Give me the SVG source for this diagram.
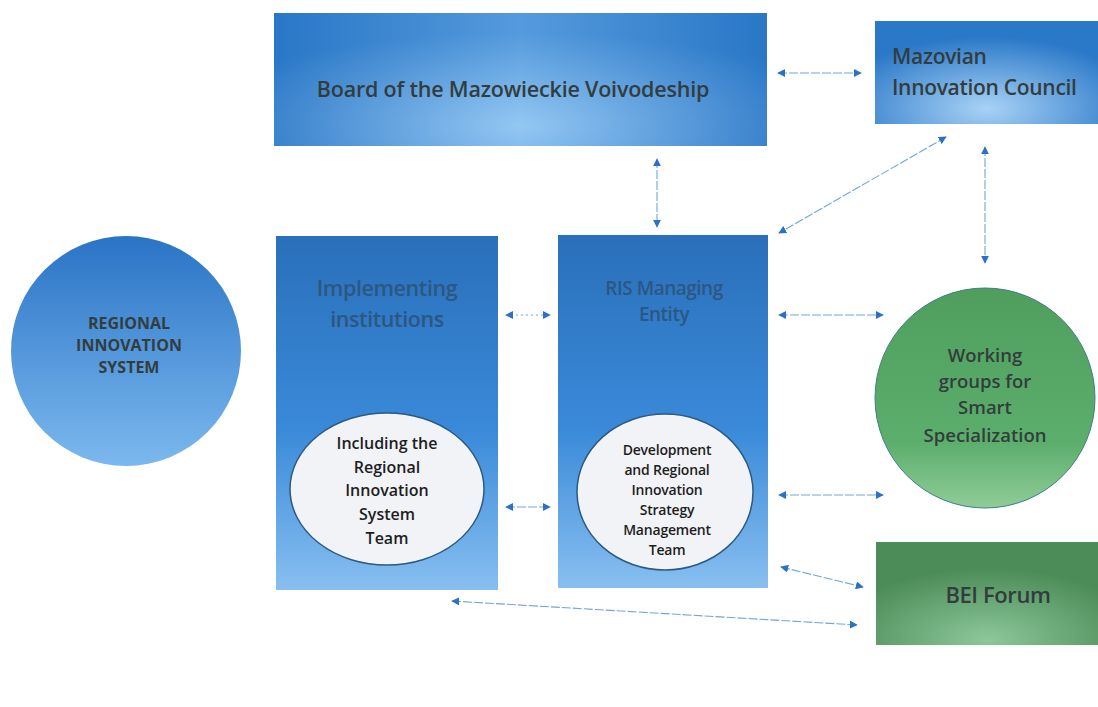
<svg xmlns="http://www.w3.org/2000/svg" width="1098" height="707" viewBox="0 0 1098 707">
<defs>
<linearGradient id="hblue" x1="0" y1="0" x2="1" y2="0">
<stop offset="0" stop-color="#2a76c6"/><stop offset="0.5" stop-color="#7fbcf0"/><stop offset="1" stop-color="#2a76c6"/>
</linearGradient>
<radialGradient id="rblue" cx="0.5" cy="0.85" r="0.7">
<stop offset="0" stop-color="#a8d2f6"/><stop offset="1" stop-color="#2a78c8"/>
</radialGradient>
<linearGradient id="vblue" x1="0" y1="0" x2="0" y2="1">
<stop offset="0" stop-color="#2a6fba"/><stop offset="0.55" stop-color="#3a8ad9"/><stop offset="1" stop-color="#88bff0"/>
</linearGradient>
<linearGradient id="cblue" x1="0" y1="0" x2="0" y2="1">
<stop offset="0" stop-color="#2a74c6"/><stop offset="1" stop-color="#7cb8ee"/>
</linearGradient>
<linearGradient id="cgreen" x1="0" y1="0" x2="0" y2="1">
<stop offset="0" stop-color="#4f9e5e"/><stop offset="0.7" stop-color="#5cae6c"/><stop offset="1" stop-color="#8fcc98"/>
</linearGradient>
<radialGradient id="rgreen" cx="0.5" cy="0.95" r="0.7">
<stop offset="0" stop-color="#8cc79a"/><stop offset="1" stop-color="#4c8c58"/>
</radialGradient>
<marker id="ah" viewBox="0 0 10 10" refX="9" refY="5" markerWidth="8" markerHeight="8" markerUnits="userSpaceOnUse" orient="auto-start-reverse">
<path d="M0,0 L10,5 L0,10 z" fill="#2a72c8"/>
</marker>
<style>
.t{font-family:"Open Sans","Noto Sans","Liberation Sans",sans-serif;font-weight:600;fill:#333d3d;text-anchor:middle}
.tb{font-family:"Open Sans","Noto Sans","Liberation Sans",sans-serif;font-weight:600;fill:#2c5780;text-anchor:middle}
.bold{font-weight:700;font-size:16px}
.e{fill:#f1f3f6;stroke:#2c5a82;stroke-width:1.5}
.k{fill:#1e1e1e}
.c{fill:none;stroke:#6ea6de;stroke-width:1.1;stroke-dasharray:9 2;marker-start:url(#ah);marker-end:url(#ah)}
</style>
</defs>
<rect width="1098" height="707" fill="#ffffff"/>
<g id="board">
<rect x="274" y="13" width="493" height="133" fill="url(#hblue)"/>
<rect x="274" y="13" width="493" height="133" fill="url(#rblue)" opacity="0.5"/>
<text class="t" x="513" y="97" font-size="21.5" letter-spacing="-0.2">Board of the Mazowieckie Voivodeship</text>
</g>
<g id="council">
<rect x="875" y="21" width="223" height="103" fill="url(#rblue)"/>
<text class="t" x="892" y="64" font-size="21" style="text-anchor:start" letter-spacing="-0.3">Mazovian</text>
<text class="t" x="892" y="95" font-size="21" style="text-anchor:start" letter-spacing="-0.3">Innovation Council</text>
</g>
<g id="ris">
<circle cx="126" cy="351" r="115" fill="url(#cblue)"/>
<text class="t bold" x="129" y="329">REGIONAL</text>
<text class="t bold" x="129" y="351">INNOVATION</text>
<text class="t bold" x="129" y="373">SYSTEM</text>
</g>
<g id="implementing">
<rect x="276" y="236" width="222" height="354" fill="url(#vblue)"/>
<text class="tb" x="387" y="296" font-size="21.5" letter-spacing="-0.4">Implementing</text>
<text class="tb" x="387" y="327" font-size="21.5" letter-spacing="-0.4">institutions</text>
<ellipse class="e" cx="387" cy="489" rx="97" ry="76"/>
<text class="t k" x="387" y="449" font-size="16">Including the</text>
<text class="t k" x="387" y="473" font-size="16">Regional</text>
<text class="t k" x="387" y="496" font-size="16">Innovation</text>
<text class="t k" x="387" y="520" font-size="16">System</text>
<text class="t k" x="387" y="544" font-size="16">Team</text>
</g>
<g id="managing">
<rect x="558" y="235" width="210" height="353" fill="url(#vblue)"/>
<text class="tb" x="664" y="295" font-size="19" letter-spacing="-0.5">RIS Managing</text>
<text class="tb" x="664" y="321" font-size="19" letter-spacing="-0.5">Entity</text>
<ellipse class="e" cx="665" cy="492" rx="88" ry="78"/>
<text class="t k" x="667" y="455" font-size="14" letter-spacing="-0.2">Development</text>
<text class="t k" x="667" y="475" font-size="14" letter-spacing="-0.2">and Regional</text>
<text class="t k" x="667" y="495" font-size="14" letter-spacing="-0.2">Innovation</text>
<text class="t k" x="667" y="515" font-size="14" letter-spacing="-0.2">Strategy</text>
<text class="t k" x="667" y="535" font-size="14" letter-spacing="-0.2">Management</text>
<text class="t k" x="667" y="555" font-size="14" letter-spacing="-0.2">Team</text>
</g>
<g id="working">
<circle cx="985" cy="398" r="110" fill="url(#cgreen)" stroke="#3f7f86" stroke-width="1"/>
<text class="t" x="985" y="362" font-size="18.5">Working</text>
<text class="t" x="985" y="388" font-size="18.5">groups for</text>
<text class="t" x="985" y="414" font-size="18.5">Smart</text>
<text class="t" x="985" y="442" font-size="18.5">Specialization</text>
</g>
<g id="bei">
<rect x="876" y="542" width="222" height="103" fill="url(#rgreen)"/>
<text class="t" x="998" y="603" font-size="22" letter-spacing="-0.4">BEI Forum</text>
</g>
<g id="connectors">
<line class="c" x1="778" y1="73" x2="861" y2="73"/>
<line class="c" x1="657" y1="159" x2="657" y2="227"/>
<line class="c" x1="946" y1="137" x2="779" y2="233"/>
<line class="c" x1="985" y1="147" x2="985" y2="263"/>
<line class="c" x1="506" y1="315" x2="550" y2="315" style="stroke-dasharray:2 3"/>
<line class="c" x1="506" y1="507" x2="550" y2="507"/>
<line class="c" x1="779" y1="315" x2="883" y2="315"/>
<line class="c" x1="779" y1="495" x2="883" y2="495"/>
<line class="c" x1="781" y1="567" x2="863" y2="587"/>
<line class="c" x1="452" y1="601" x2="857" y2="625"/>
</g>
</svg>
